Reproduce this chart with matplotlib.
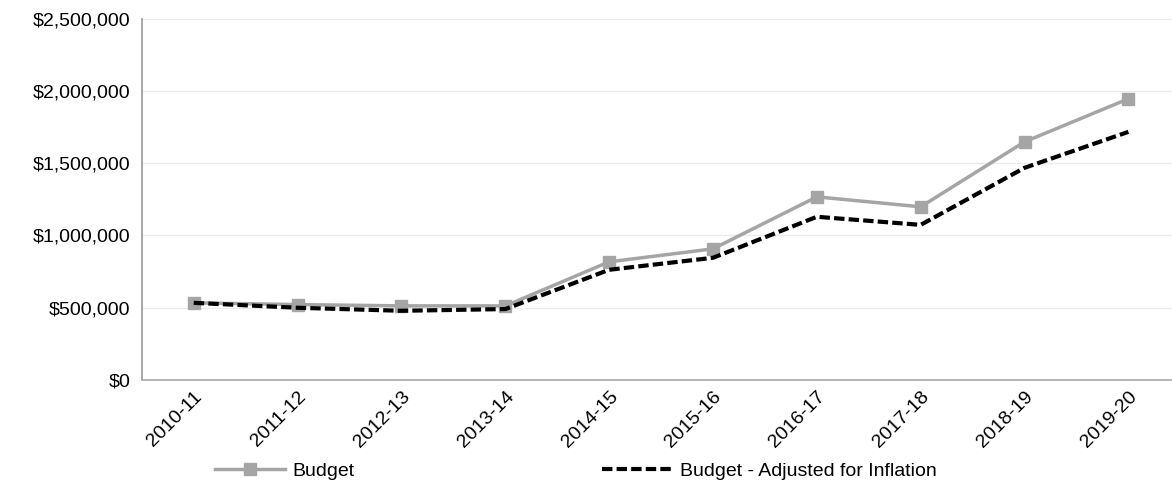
import matplotlib.pyplot as plt
from matplotlib.ticker import FuncFormatter

# Data
years = ['2010-11', '2011-12', '2012-13', '2013-14', '2014-15',
         '2015-16', '2016-17', '2017-18', '2018-19', '2019-20']
budget = [533000, 521000, 512000, 512000, 817000, 907000, 1267000, 1198000, 1648000, 1946000]
adjusted = [533000, 499000, 478000, 490000, 762000, 845000, 1129000, 1073000, 1468000, 1717000]

plt.rcParams['font.family'] = ['Liberation Sans', 'DejaVu Sans']

fig = plt.figure(figsize=(11.72, 4.82), dpi=100)
ax = fig.add_axes([0.121, 0.212, 0.879, 0.749])

x = range(len(years))
ax.plot(x, budget, color='#A5A5A5', lw=2.5, marker='s', markersize=9, label='Budget', zorder=3)
ax.plot(x, adjusted, color='black', lw=3, ls=(0, (2.5, 1.0)), label='Budget - Adjusted for Inflation', zorder=4)

ax.set_ylim(0, 2500000)
ax.set_yticks(range(0, 2500001, 500000))
ax.yaxis.set_major_formatter(FuncFormatter(lambda v, p: '${:,.0f}'.format(v)))
ax.set_xlim(-0.5, 9.42)
ax.set_xticks(list(x))
ax.set_xticklabels(years, rotation=45, ha='right', rotation_mode='anchor')

ax.grid(axis='y', color='#EBEBEB', lw=1)
ax.set_axisbelow(True)
for s in ['top', 'right']:
    ax.spines[s].set_visible(False)
ax.spines['left'].set_color('#A0A0A0')
ax.spines['left'].set_linewidth(1.3)
ax.spines['bottom'].set_color('#B0B0B0')
ax.spines['bottom'].set_linewidth(1.3)
ax.tick_params(axis='both', length=0, labelsize=14)
ax.tick_params(axis='y', pad=8)
ax.tick_params(axis='x', pad=6)

fig.legend(loc='center left', bbox_to_anchor=(0.1685, 0.023), ncol=2, frameon=False,
           fontsize=14, handlelength=3.6, columnspacing=12.7, handletextpad=0.4)

fig.savefig('out.png', dpi=100)
